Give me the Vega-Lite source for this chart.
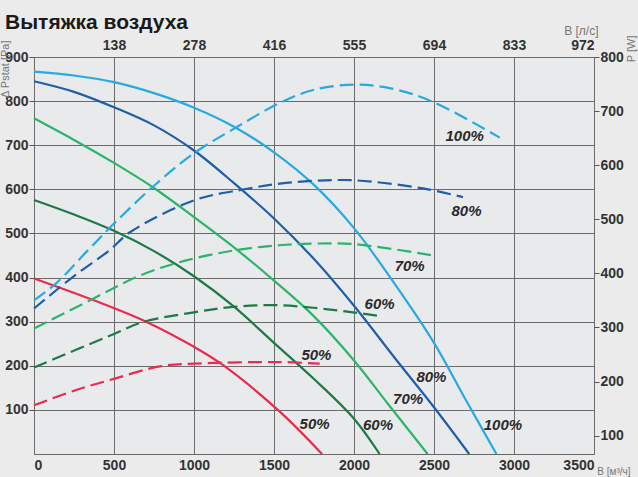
{
  "$schema": "https://vega.github.io/schema/vega-lite/v6.json",
  "width": 560,
  "height": 397,
  "autosize": {"type": "none"},
  "padding": {"left": 34, "top": 57, "right": 44, "bottom": 23},
  "background": "#ebebeb",
  "title": {
    "text": "Вытяжка воздуха",
    "anchor": "start",
    "frame": "group",
    "dx": -29,
    "dy": 13,
    "fontSize": 21,
    "font": "Liberation Sans",
    "fontWeight": "bold",
    "color": "#1a1a1a"
  },
  "config": {
    "view": {"stroke": "#666666", "strokeWidth": 1, "fill": "#e9eaec"},
    "axis": {
      "labelFont": "Liberation Sans",
      "labelFontWeight": "bold",
      "labelFontSize": 14,
      "labelColor": "#333333",
      "tickColor": "#555555",
      "titleFont": "Liberation Sans",
      "titleFontWeight": "normal",
      "titleFontSize": 11,
      "titleColor": "#777777",
      "domain": false
    }
  },
  "datasets": {
    "pressure": [
      {"s": "100%", "q": 0, "p": 867}, {"s": "100%", "q": 250, "p": 858}, {"s": "100%", "q": 500, "p": 843}, {"s": "100%", "q": 750, "p": 818}, {"s": "100%", "q": 1000, "p": 785}, {"s": "100%", "q": 1250, "p": 742}, {"s": "100%", "q": 1500, "p": 684}, {"s": "100%", "q": 1750, "p": 610}, {"s": "100%", "q": 2000, "p": 512}, {"s": "100%", "q": 2250, "p": 388}, {"s": "100%", "q": 2500, "p": 252}, {"s": "100%", "q": 2700, "p": 122}, {"s": "100%", "q": 2890, "p": 0},
      {"s": "80%", "q": 0, "p": 845}, {"s": "80%", "q": 250, "p": 821}, {"s": "80%", "q": 500, "p": 786}, {"s": "80%", "q": 750, "p": 745}, {"s": "80%", "q": 1000, "p": 688}, {"s": "80%", "q": 1250, "p": 614}, {"s": "80%", "q": 1500, "p": 534}, {"s": "80%", "q": 1750, "p": 442}, {"s": "80%", "q": 2000, "p": 336}, {"s": "80%", "q": 2250, "p": 220}, {"s": "80%", "q": 2500, "p": 106}, {"s": "80%", "q": 2720, "p": 0},
      {"s": "70%", "q": 0, "p": 761}, {"s": "70%", "q": 250, "p": 712}, {"s": "70%", "q": 500, "p": 660}, {"s": "70%", "q": 750, "p": 603}, {"s": "70%", "q": 1000, "p": 537}, {"s": "70%", "q": 1265, "p": 464}, {"s": "70%", "q": 1500, "p": 393}, {"s": "70%", "q": 1750, "p": 312}, {"s": "70%", "q": 2000, "p": 212}, {"s": "70%", "q": 2220, "p": 110}, {"s": "70%", "q": 2460, "p": 0},
      {"s": "60%", "q": 0, "p": 576}, {"s": "60%", "q": 250, "p": 543}, {"s": "60%", "q": 500, "p": 506}, {"s": "60%", "q": 750, "p": 460}, {"s": "60%", "q": 1000, "p": 403}, {"s": "60%", "q": 1250, "p": 334}, {"s": "60%", "q": 1500, "p": 252}, {"s": "60%", "q": 1750, "p": 170}, {"s": "60%", "q": 2000, "p": 80}, {"s": "60%", "q": 2160, "p": 0},
      {"s": "50%", "q": 0, "p": 398}, {"s": "50%", "q": 370, "p": 349}, {"s": "50%", "q": 700, "p": 300}, {"s": "50%", "q": 1000, "p": 243}, {"s": "50%", "q": 1180, "p": 202}, {"s": "50%", "q": 1536, "p": 96}, {"s": "50%", "q": 1800, "p": 0}
    ],
    "power": [
      {"s": "100%", "q": 0, "w": 350}, {"s": "100%", "q": 140, "w": 382}, {"s": "100%", "q": 338, "w": 443}, {"s": "100%", "q": 500, "w": 492}, {"s": "100%", "q": 750, "w": 562}, {"s": "100%", "q": 1000, "w": 622}, {"s": "100%", "q": 1265, "w": 670}, {"s": "100%", "q": 1536, "w": 715}, {"s": "100%", "q": 1744, "w": 739}, {"s": "100%", "q": 2000, "w": 749}, {"s": "100%", "q": 2244, "w": 741}, {"s": "100%", "q": 2494, "w": 717}, {"s": "100%", "q": 2911, "w": 651},
      {"s": "80%", "q": 0, "w": 335}, {"s": "80%", "q": 250, "w": 395}, {"s": "80%", "q": 473, "w": 443}, {"s": "80%", "q": 600, "w": 476}, {"s": "80%", "q": 1000, "w": 535}, {"s": "80%", "q": 1306, "w": 555}, {"s": "80%", "q": 1536, "w": 566}, {"s": "80%", "q": 1750, "w": 571}, {"s": "80%", "q": 2000, "w": 572}, {"s": "80%", "q": 2431, "w": 557}, {"s": "80%", "q": 2681, "w": 541},
      {"s": "70%", "q": 0, "w": 298}, {"s": "70%", "q": 369, "w": 353}, {"s": "70%", "q": 662, "w": 396}, {"s": "70%", "q": 952, "w": 424}, {"s": "70%", "q": 1265, "w": 443}, {"s": "70%", "q": 1536, "w": 452}, {"s": "70%", "q": 1750, "w": 455}, {"s": "70%", "q": 2000, "w": 454}, {"s": "70%", "q": 2494, "w": 433},
      {"s": "60%", "q": 0, "w": 226}, {"s": "60%", "q": 500, "w": 288}, {"s": "60%", "q": 681, "w": 310}, {"s": "60%", "q": 1000, "w": 328}, {"s": "60%", "q": 1244, "w": 338}, {"s": "60%", "q": 1536, "w": 341}, {"s": "60%", "q": 1994, "w": 328}, {"s": "60%", "q": 2181, "w": 320},
      {"s": "50%", "q": 0, "w": 156}, {"s": "50%", "q": 250, "w": 183}, {"s": "50%", "q": 500, "w": 205}, {"s": "50%", "q": 786, "w": 228}, {"s": "50%", "q": 1000, "w": 233}, {"s": "50%", "q": 1536, "w": 236}, {"s": "50%", "q": 1786, "w": 233}
    ],
    "labels": [
      {"t": "100%", "q": 2692, "p": 720},
      {"t": "80%", "q": 2703, "p": 551},
      {"t": "70%", "q": 2348, "p": 426},
      {"t": "60%", "q": 2160, "p": 340},
      {"t": "50%", "q": 1765, "p": 224},
      {"t": "80%", "q": 2484, "p": 174},
      {"t": "70%", "q": 2338, "p": 125},
      {"t": "50%", "q": 1754, "p": 68},
      {"t": "60%", "q": 2150, "p": 66},
      {"t": "100%", "q": 2931, "p": 66}
    ]
  },
  "layer": [
    {
      "data": {"name": "pressure"},
      "mark": {"type": "line", "interpolate": "catmull-rom", "strokeWidth": 2.2},
      "encoding": {
        "x": {
          "field": "q", "type": "quantitative",
          "scale": {"domain": [0, 3500], "nice": false, "zero": false},
          "axis": {
            "orient": "bottom",
            "values": [0, 500, 1000, 1500, 2000, 2500, 3000, 3500],
            "format": "d",
            "ticks": false,
            "grid": true,
            "gridColor": "#6b6b6b",
            "gridWidth": 1,
            "labelPadding": 4,
            "title": "B [м³/ч]",
            "titleAnchor": "end",
            "titleAlign": "right",
            "titleBaseline": "top",
            "titleFontSize": 10,
            "titleX": 596,
            "titleY": 12
          }
        },
        "y": {
          "field": "p", "type": "quantitative",
          "scale": {"domain": [0, 900], "nice": false},
          "axis": {
            "orient": "left",
            "values": [100, 200, 300, 400, 500, 600, 700, 800, 900],
            "grid": true,
            "gridColor": "#6b6b6b",
            "gridWidth": 1,
            "tickSize": 5,
            "labelPadding": 1,
            "title": "Δ Pstat [Pa]",
            "titleAngle": -90,
            "titleAlign": "right",
            "titleBaseline": "middle",
            "titleX": -29,
            "titleY": -17
          }
        },
        "color": {
          "field": "s", "type": "nominal",
          "scale": {"domain": ["100%", "80%", "70%", "60%", "50%"], "range": ["#29a9e1", "#1f5ea8", "#2db46c", "#1d7a47", "#ec2a4f"]},
          "legend": null
        }
      }
    },
    {
      "data": {"name": "power"},
      "mark": {"type": "line", "interpolate": "catmull-rom", "strokeWidth": 2.2, "strokeDash": [14, 6]},
      "encoding": {
        "x": {
          "field": "q", "type": "quantitative",
          "scale": {"domain": [0, 3500], "nice": false, "zero": false},
          "axis": {
            "orient": "top",
            "values": [500, 1000, 1500, 2000, 2500, 3000, 3500],
            "labelExpr": "datum.value == 500 ? '138' : datum.value == 1000 ? '278' : datum.value == 1500 ? '416' : datum.value == 2000 ? '555' : datum.value == 2500 ? '694' : datum.value == 3000 ? '833' : '972'",
            "ticks": false,
            "grid": false,
            "labelPadding": 5,
            "title": "B [л/с]",
            "titleAlign": "right",
            "titleBaseline": "middle",
            "titleFontSize": 12,
            "titleX": 564,
            "titleY": -27
          }
        },
        "y": {
          "field": "w", "type": "quantitative",
          "scale": {"domain": [66, 800], "nice": false, "zero": false},
          "axis": {
            "orient": "right",
            "values": [100, 200, 300, 400, 500, 600, 700, 800],
            "grid": false,
            "tickSize": 5,
            "labelPadding": 1,
            "title": "P [W]",
            "titleAngle": -90,
            "titleAlign": "right",
            "titleBaseline": "middle",
            "titleX": 37,
            "titleY": -22
          }
        },
        "color": {"field": "s", "type": "nominal", "legend": null}
      }
    },
    {
      "data": {"name": "labels"},
      "mark": {"type": "text", "font": "Liberation Sans", "fontSize": 15, "fontWeight": "bold", "fontStyle": "italic", "color": "#2a2a2a"},
      "encoding": {
        "x": {"field": "q", "type": "quantitative", "scale": {"domain": [0, 3500], "nice": false, "zero": false}, "axis": null},
        "y": {"field": "p", "type": "quantitative", "scale": {"domain": [0, 900], "nice": false}, "axis": null},
        "text": {"field": "t"}
      }
    }
  ],
  "resolve": {"scale": {"y": "independent", "color": "shared"}, "axis": {"x": "independent", "y": "independent"}}
}
